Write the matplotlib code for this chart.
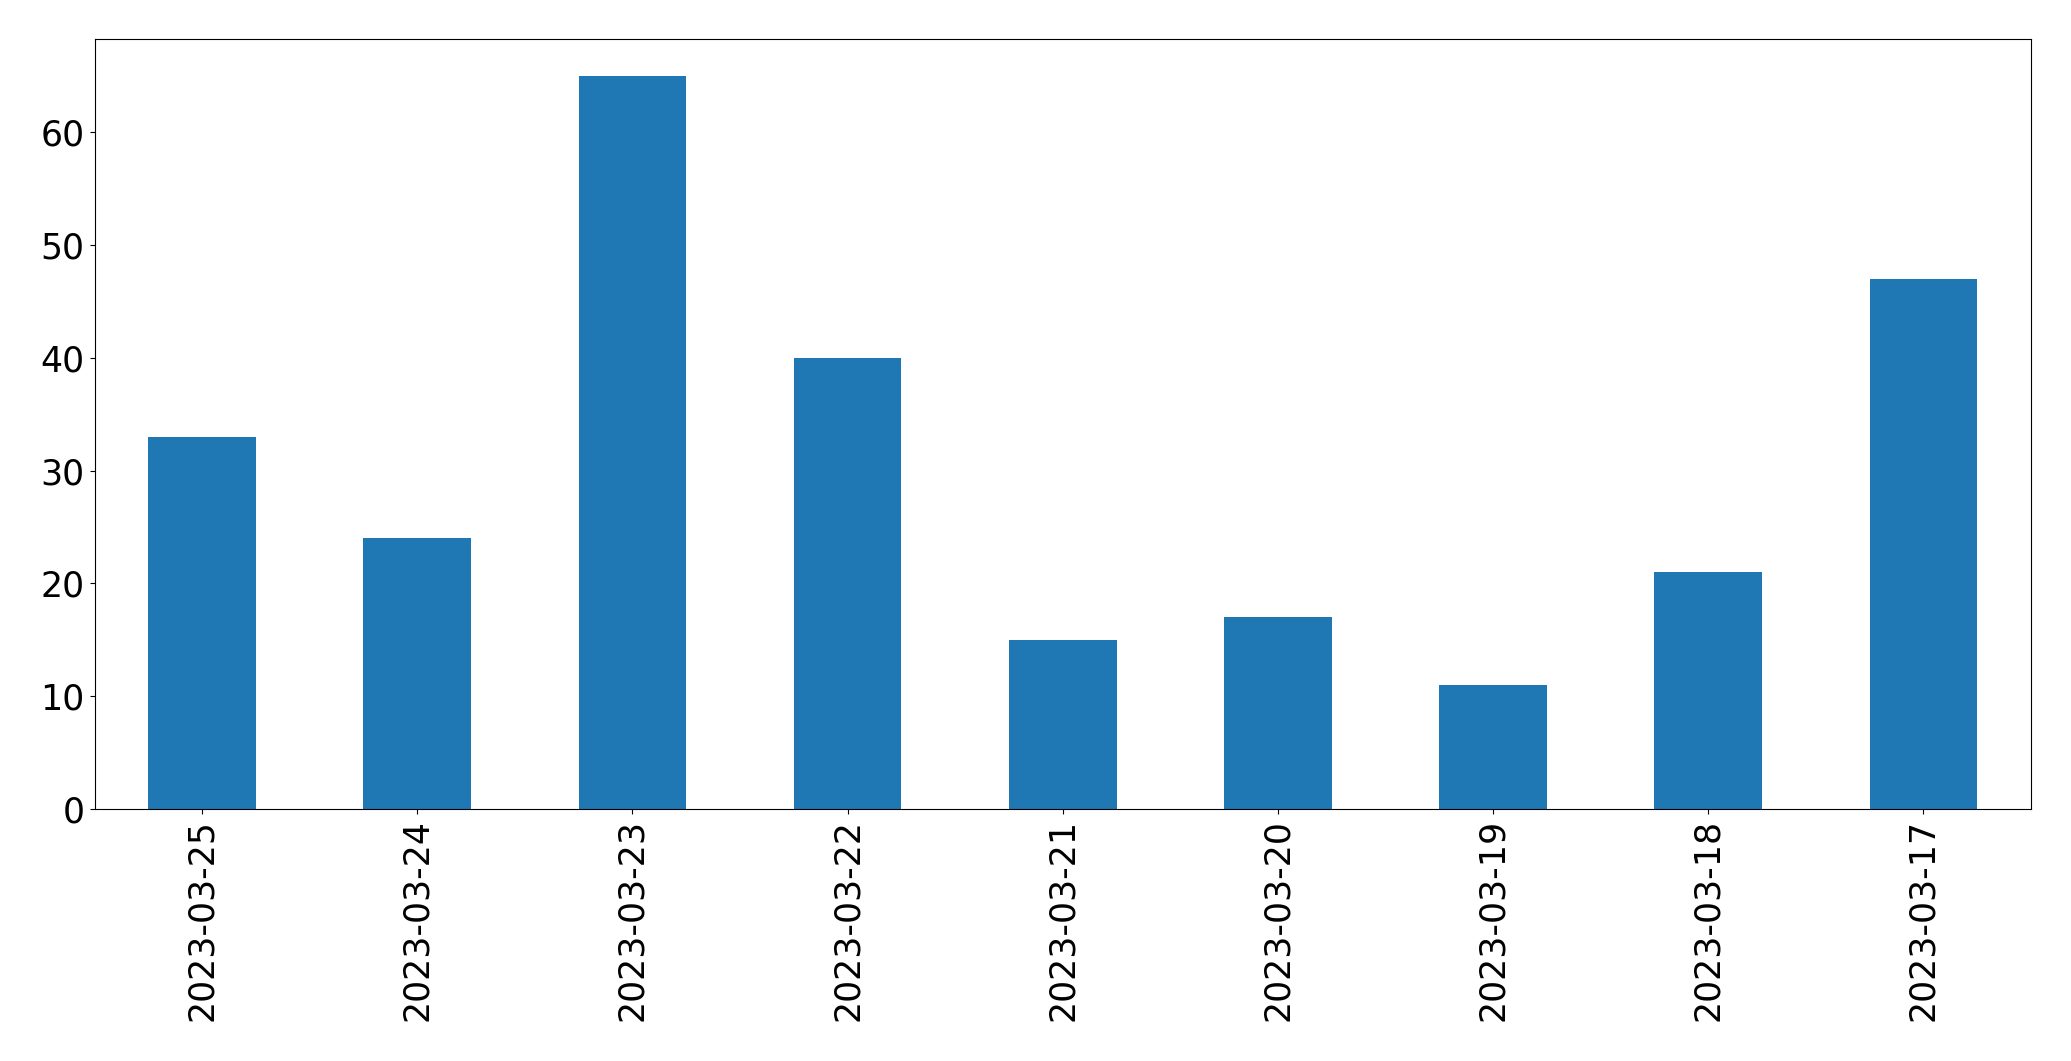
import matplotlib
matplotlib.use("Agg")
import matplotlib.pyplot as plt
import pandas as pd

dates = ["2023-03-25", "2023-03-24", "2023-03-23", "2023-03-22", "2023-03-21",
         "2023-03-20", "2023-03-19", "2023-03-18", "2023-03-17"]
counts = [33, 24, 65, 40, 15, 17, 11, 21, 47]

s = pd.Series(counts, index=dates)

fig = plt.figure(figsize=(20.71, 10.61), dpi=100)
ax = fig.add_axes([94.5 / 2071, 1 - 809 / 1061, (2031 - 94.5) / 2071, (809 - 39) / 1061])
s.plot(kind="bar", ax=ax, fontsize=25)
ax.tick_params(axis="x", labelrotation=90)

fig.savefig("out.png", dpi=100)
